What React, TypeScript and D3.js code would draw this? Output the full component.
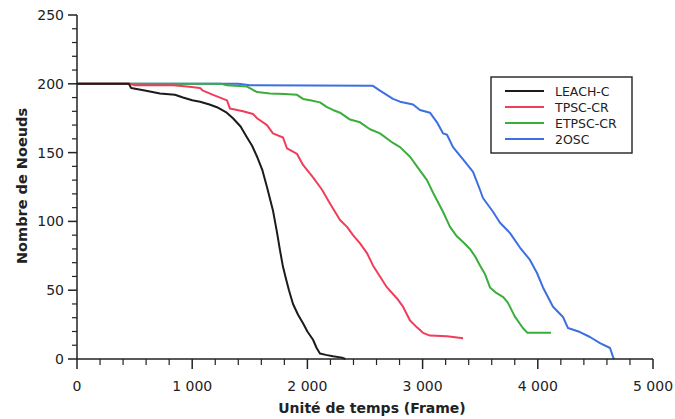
import React from "react";
import * as d3 from "d3";

type Pt = [number, number];

const seriesNames = ["LEACH-C", "TPSC-CR", "ETPSC-CR", "2OSC"];
const seriesColors = ["#1c1a1a", "#f03e5a", "#3aad3a", "#3c6fe2"];

const leachC: Pt[] = [
  [0, 200], [450, 200], [470, 197], [600, 195], [720, 193], [850, 192], [920, 190],
  [1000, 188], [1068, 187], [1150, 185], [1215, 183], [1300, 179], [1354, 175],
  [1420, 169], [1476, 161], [1520, 155], [1563, 147], [1610, 137], [1649, 125],
  [1701, 108], [1736, 92], [1760, 80], [1788, 67], [1815, 58], [1840, 50],
  [1875, 40], [1920, 32], [1962, 26], [2000, 20], [2049, 14], [2080, 8],
  [2109, 4], [2160, 3], [2222, 2], [2300, 1], [2330, 0],
];

const tpscCR: Pt[] = [
  [0, 200], [460, 200], [500, 199], [833, 199], [955, 198], [1068, 197], [1094, 195],
  [1181, 192], [1302, 188], [1328, 182], [1441, 180], [1528, 178], [1563, 175],
  [1649, 170], [1701, 164], [1788, 161], [1823, 153], [1910, 149], [1962, 141],
  [2049, 132], [2127, 123], [2196, 113], [2283, 101], [2344, 96], [2396, 90],
  [2457, 84], [2517, 77], [2569, 68], [2630, 60], [2691, 52], [2778, 44],
  [2830, 38], [2891, 28], [2951, 23], [3003, 19], [3064, 17], [3212, 16.5], [3351, 15],
];

const etpscCR: Pt[] = [
  [0, 200], [1250, 200], [1302, 199], [1476, 198], [1528, 195.5], [1563, 194],
  [1675, 193], [1800, 192.5], [1910, 192], [1962, 189], [2023, 188], [2109, 186.5],
  [2170, 183], [2222, 181], [2283, 179], [2370, 174], [2457, 172], [2543, 167],
  [2630, 164], [2743, 157], [2804, 154], [2891, 147], [2951, 140], [3038, 130],
  [3090, 121], [3177, 107], [3238, 96], [3299, 89], [3351, 85], [3411, 80],
  [3460, 74], [3498, 68], [3540, 62], [3585, 52], [3640, 48], [3700, 45],
  [3740, 41], [3800, 31], [3870, 22.5], [3910, 19], [4115, 19],
];

const osc2: Pt[] = [
  [0, 200], [1400, 200], [1500, 199], [2569, 198.5], [2630, 195], [2743, 189],
  [2804, 187], [2917, 185], [2977, 181], [3064, 179], [3125, 172], [3177, 164],
  [3212, 163], [3264, 154], [3351, 145], [3438, 136], [3498, 123], [3524, 117],
  [3611, 107], [3672, 99], [3759, 91.5], [3845, 81], [3932, 72], [3993, 62.5],
  [4045, 52], [4132, 38], [4219, 30.5], [4262, 22.5], [4366, 19.6], [4453, 16],
  [4540, 11.6], [4627, 8], [4653, 1.5], [4661, 0],
];

const seriesData = [leachC, tpscCR, etpscCR, osc2];

const xTicks = [0, 1000, 2000, 3000, 4000, 5000];
const yTicks = [0, 50, 100, 150, 200, 250];
const xTitle = "Unité de temps (Frame)";
const yTitle = "Nombre de Noeuds";

const W = 675;
const H = 419;
const FONT = "'DejaVu Sans', sans-serif";

export default function App() {
  const x = d3.scaleLinear().domain([0, 5000]).range([77, 653]);
  const y = d3.scaleLinear().domain([0, 250]).range([359, 15]);
  const line = d3
    .line<Pt>()
    .x((d) => x(d[0]))
    .y((d) => y(d[1]))
    .curve(d3.curveLinear);

  const xMinor = d3.range(0, 5001, 200).filter((v) => v % 1000 !== 0);
  const yMinor = d3.range(0, 251, 10).filter((v) => v % 50 !== 0);
  const fmt = (v: number) => (v >= 1000 ? `${Math.floor(v / 1000)} ${String(v % 1000).padStart(3, "0")}` : String(v));
  const axisColor = "#222";
  const drawOrder = [3, 2, 1, 0];

  return (
    <svg
      width={W}
      height={H}
      style={{ position: "absolute", left: 0, top: 0, background: "#fff" }}
      fontFamily={FONT}
    >
      <rect x={0} y={0} width={W} height={H} fill="#fff" />
      {drawOrder.map((i) => (
        <path
          key={seriesNames[i]}
          d={line(seriesData[i]) || ""}
          fill="none"
          stroke={seriesColors[i]}
          strokeWidth={2}
          strokeLinejoin="round"
        />
      ))}
      {/* y axis */}
      <line x1={x(0)} x2={x(0)} y1={y(0)} y2={y(250)} stroke={axisColor} strokeWidth={1.5} />
      {yTicks.map((t) => (
        <g key={"yt" + t}>
          <line x1={x(0) - 9} x2={x(0)} y1={y(t)} y2={y(t)} stroke={axisColor} strokeWidth={1.5} />
          <text x={x(0) - 13} y={y(t)} dy="0.35em" textAnchor="end" fontSize={14} fill="#222">
            {t}
          </text>
        </g>
      ))}
      {yMinor.map((t) => (
        <line key={"ym" + t} x1={x(0) - 5} x2={x(0)} y1={y(t)} y2={y(t)} stroke={axisColor} strokeWidth={1.2} />
      ))}
      {/* x axis */}
      <line x1={x(0)} x2={x(5000)} y1={y(0)} y2={y(0)} stroke={axisColor} strokeWidth={1.5} />
      {xTicks.map((t) => (
        <g key={"xt" + t}>
          <line x1={x(t)} x2={x(t)} y1={y(0)} y2={y(0) + 10} stroke={axisColor} strokeWidth={1.5} />
          <text x={x(t)} y={391} textAnchor="middle" fontSize={14} fill="#222">
            {fmt(t)}
          </text>
        </g>
      ))}
      {xMinor.map((t) => (
        <line key={"xm" + t} x1={x(t)} x2={x(t)} y1={y(0)} y2={y(0) + 6} stroke={axisColor} strokeWidth={1.2} />
      ))}
      <text x={372} y={413} textAnchor="middle" fontSize={14} fontWeight="bold" fill="#222">
        {xTitle}
      </text>
      <text
        transform={`translate(27,186) rotate(-90)`}
        textAnchor="middle"
        fontSize={14.5}
        fontWeight="bold"
        fill="#222"
      >
        {yTitle}
      </text>
      {/* legend */}
      <rect x={491} y={77} width={141} height={76} fill="#fff" stroke="#222" strokeWidth={1.4} />
      {seriesNames.map((n, i) => (
        <g key={"lg" + n} transform={`translate(0, ${91 + i * 16})`}>
          <line x1={505} x2={544} y1={0} y2={0} stroke={seriesColors[i]} strokeWidth={2} />
          <text x={555} y={0} dy="0.36em" fontSize={12.5} fill="#222">
            {n}
          </text>
        </g>
      ))}
    </svg>
  );
}
